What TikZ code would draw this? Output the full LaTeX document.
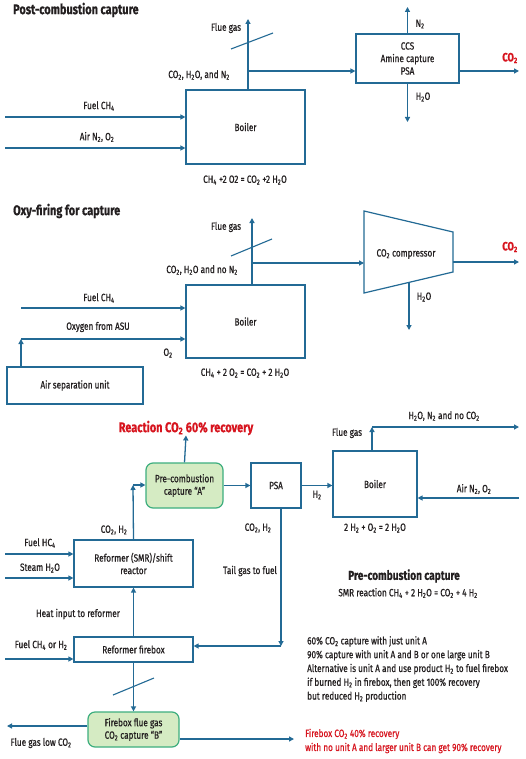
\documentclass[tikz,border=0pt]{standalone}
\usepackage{fontspec}
\setmainfont{Fira Sans}[FakeStretch=0.78, FakeBold=0.6]
\usetikzlibrary{arrows.meta, positioning, calc}
\definecolor{flowblue}{HTML}{236A95}
\definecolor{capgreen}{HTML}{D5EBC3}
\definecolor{capedge}{HTML}{3DAE7E}
\definecolor{recred}{HTML}{D7141E}
\definecolor{txtdark}{HTML}{231F20}
\newcommand{\subs}[1]{\textsubscript{#1}}
\newcommand{\lblfont}{\fontsize{10.5}{12.5}\selectfont}

\begin{document}
\begin{tikzpicture}[x=1pt, y=-1pt, >={Triangle[length=5pt, width=5pt]},
  flow/.style={->, flowblue, line width=1.3pt},
  slash/.style={flowblue, line width=1.1pt},
  unitbox/.style={draw=flowblue, line width=1.2pt, fill=white, text=txtdark,
    align=center, inner sep=1pt, font=\lblfont},
  capbox/.style={unitbox, draw=capedge, fill=capgreen, rounded corners=7pt},
  lbl/.style={text=txtdark, font=\lblfont, inner sep=0pt},
  redlbl/.style={lbl, text=recred},
  heading/.style={text=txtdark, font=\fontsize{14}{16}\selectfont\bfseries, inner sep=0pt}]

% Background
\useasboundingbox (0,0) rectangle (525,759);
\fill[white] (0,0) rectangle (525,759);

% =========== POST-COMBUSTION ===========
\node[heading, anchor=west] (head1) at (13,10) {Post-combustion capture};

\node[unitbox, minimum width=119, minimum height=74] (boil1) at (245.5,127) {Boiler};
\node[lbl] (eq1) at (245,180) {CH\subs{4} +2 O2 = CO\subs{2} +2 H\subs{2}O};

\coordinate (fuel1) at (5,117);
\coordinate (air1) at (5,148);
\draw[flow] (fuel1) -- (fuel1 -| boil1.west);
\draw[flow] (air1) -- (air1 -| boil1.west);
\node[lbl] at (99,106) {Fuel CH\subs{4}};
\node[lbl] at (97,137) {Air N\subs{2}, O\subs{2}};

% flue gas stack
\coordinate (stack1) at (248,19);
\coordinate (split1) at (248,71);
\draw[flow] (stack1 |- boil1.north) -- (stack1);
\draw[slash] (231,49) -- (273,33);
\node[lbl] at (226,28) {Flue gas};
\node[lbl] at (199,75) {CO\subs{2}, H\subs{2}O, and N\subs{2}};

\node[unitbox, minimum width=103, minimum height=49] (ccs) at (407.5,58.5)
  {CCS\\Amine capture\\PSA};
\draw[flow] (split1) -- (split1 -| ccs.west);
\coordinate (n2out) at (407.5,7);
\coordinate (h2oout1) at (407.5,122);
\draw[flow] (ccs.north) -- (n2out);
\draw[flow] (ccs.south) -- (h2oout1);
\node[lbl] at (420,24) {N\subs{2}};
\node[lbl] at (423,97) {H\subs{2}O};
\coordinate (co2out1) at (519,71);
\draw[flow] (co2out1 -| ccs.east) -- (co2out1);
\node[redlbl, font=\fontsize{12}{14}\selectfont\bfseries] at (510,58) {CO\subs{2}};

% =========== OXY-FIRING ===========
\node[heading, anchor=west] (head2) at (13,211) {Oxy-firing for capture};

\node[unitbox, minimum width=119, minimum height=73] (boil2) at (245.5,321.5) {Boiler};
\node[lbl] (eq2) at (245,373) {CH\subs{4} + 2 O\subs{2} = CO\subs{2} + 2 H\subs{2}O};

\coordinate (stack2) at (252,218);
\coordinate (split2) at (252,263);
\draw[flow] (stack2 |- boil2.north) -- (stack2);
\draw[slash] (231,256) -- (272,239);
\node[lbl] at (226,227) {Flue gas};
\node[lbl] at (202,270) {CO\subs{2}, H\subs{2}O and no N\subs{2}};

% compressor
\draw[flowblue, line width=1.2pt, fill=white] (364,211) -- (453,232) -- (453,272) -- (364,293) -- cycle;
\node[lbl] (comp) at (406,254) {CO\subs{2} compressor};
\coordinate (compin) at (364,263);
\draw[flow] (split2) -- (compin);
\coordinate (co2out2) at (519,262);
\draw[flow] (453,262) -- (co2out2);
\node[redlbl, font=\fontsize{12}{14}\selectfont\bfseries] at (510,247) {CO\subs{2}};
\coordinate (h2oout2) at (409,330);
\draw[flow] (409,282.5) -- (h2oout2);
\node[lbl] at (424,297) {H\subs{2}O};

\coordinate (fuel2) at (21,308);
\draw[flow] (fuel2) -- (fuel2 -| boil2.west);
\node[lbl] at (99,298) {Fuel CH\subs{4}};

\node[unitbox, minimum width=136, minimum height=37] (asu) at (75,385.5) {Air separation unit};
\coordinate (oxy) at (21,339);
\draw[flow] (asu.north -| oxy) -- (oxy);
\draw[flow] (oxy) -- (oxy -| boil2.west);
\node[lbl] at (98,327) {Oxygen from ASU};
\node[lbl] at (168,353) {O\subs{2}};

% =========== PRE-COMBUSTION ===========
\node[redlbl, font=\fontsize{14}{16}\selectfont\bfseries] (react) at (186,428) {Reaction CO\subs{2} 60\% recovery};

\node[capbox, minimum width=77, minimum height=45] (capa) at (184.5,485.5)
  {Pre-combustion\\capture “A”};
\draw[flow] (capa.north) -- (react.south);

\node[unitbox, minimum width=50, minimum height=45] (psa) at (276,485.5) {PSA};
\draw[flow] (capa.east) -- (psa.west);

\node[unitbox, minimum width=84, minimum height=66] (boil3) at (375,484) {Boiler};
\draw[flow] (psa.east) -- (psa.east -| boil3.west);
\node[lbl] at (317,495) {H\subs{2}};
\node[lbl] (eq3) at (375,528) {2 H\subs{2} + O\subs{2} = 2 H\subs{2}O};

\coordinate (stack3) at (372,427);
\coordinate (fgout3) at (519,427);
\draw[flow] (stack3 |- boil3.north) -- (stack3);
\draw[flow] (stack3) -- (fgout3);
\node[lbl] at (347,433) {Flue gas};
\node[lbl] at (444,416) {H\subs{2}O, N\subs{2} and no CO\subs{2}};
\coordinate (air3) at (519,498);
\draw[flow] (air3) -- (air3 -| boil3.east);
\node[lbl] at (474,489) {Air N\subs{2}, O\subs{2}};

% reformer
\node[unitbox, minimum width=119, minimum height=47] (reform) at (133.5,563.5)
  {Reformer (SMR)/shift\\reactor};
\coordinate (rfout) at (133,485);
\draw[flow] (reform.north) -- (rfout);
\draw[flow] (rfout) -- (rfout -| capa.west);
\node[lbl] at (114,530) {CO\subs{2}, H\subs{2}};

\coordinate (fuel3) at (5,554);
\coordinate (steam3) at (5,578);
\draw[flow] (fuel3) -- (fuel3 -| reform.west);
\draw[flow] (steam3) -- (steam3 -| reform.west);
\node[lbl] at (40,543) {Fuel HC\subs{4}};
\node[lbl] at (40,568) {Steam H\subs{2}O};

% firebox
\node[unitbox, minimum width=119, minimum height=25] (firebox) at (133.5,649.5) {Reformer firebox};
\draw[flow] (firebox.north) -- (reform.south);
\node[lbl] at (78,614) {Heat input to reformer};
\coordinate (fuel4) at (5,659);
\draw[flow] (fuel4) -- (fuel4 -| firebox.west);
\node[lbl] at (41,645) {Fuel CH\subs{4} or H\subs{2}};

% tail gas
\coordinate (tail) at (281,646);
\draw[flow] (psa.south -| tail) -- (tail);
\draw[flow] (tail) -- (tail -| firebox.east);
\node[lbl] at (258,528) {CO\subs{2}, H\subs{2}};
\node[lbl] at (250,571) {Tail gas to fuel};

% firebox flue gas
\node[capbox, minimum width=91, minimum height=35] (capb) at (133.5,729.5)
  {Firebox flue gas\\CO\subs{2} capture “B”};
\draw[flow] (firebox.south) -- (capb.north);
\draw[slash] (113,695) -- (154,678);
\coordinate (lowout) at (7,726);
\draw[flow] (lowout -| capb.west) -- (lowout);
\node[lbl] at (41,743) {Flue gas low CO\subs{2}};
\coordinate (recout) at (294,739);
\draw[flow] (recout -| capb.east) -- (recout);
\node[redlbl, anchor=west, align=left, font=\fontsize{10.5}{14}\selectfont] (firerec) at (305,741)
  {Firebox CO\subs{2} 40\% recovery\\with no unit A and larger unit B can get 90\% recovery};

% notes
\node[heading, font=\fontsize{13}{15}\selectfont\bfseries] (head3) at (404,576) {Pre-combustion capture};
\node[lbl] (smr) at (408,593) {SMR reaction CH\subs{4} + 2 H\subs{2}O = CO\subs{2} + 4 H\subs{2}};
\node[lbl, anchor=north west, align=left, font=\fontsize{10.5}{13.8}\selectfont] (notes) at (307,636)
  {60\% CO\subs{2} capture with just unit A\\
   90\% capture with unit A and B or one large unit B\\
   Alternative is unit A and use product H\subs{2} to fuel firebox\\
   if burned H\subs{2} in firebox, then get 100\% recovery\\
   but reduced H\subs{2} production};

\end{tikzpicture}
\end{document}
